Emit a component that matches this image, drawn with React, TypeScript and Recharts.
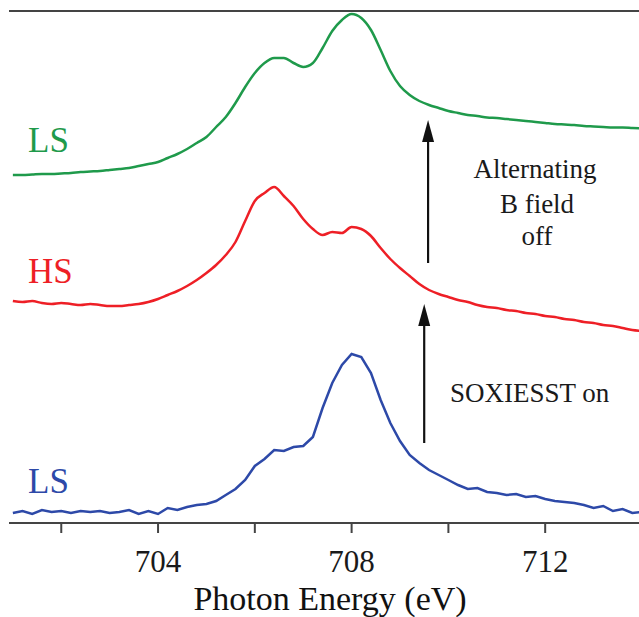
import React from "react";
import { LineChart, Line, XAxis, YAxis, ReferenceLine } from "recharts";

// photon energy grid (eV)
const energy = [
  701.0, 701.2, 701.4, 701.6, 701.8, 702.0, 702.2, 702.4, 702.6, 702.8,
  703.0, 703.2, 703.4, 703.6, 703.8, 704.0, 704.2, 704.4, 704.6, 704.8,
  705.0, 705.2, 705.4, 705.6, 705.8, 706.0, 706.2, 706.4, 706.6, 706.8,
  707.0, 707.2, 707.4, 707.6, 707.8, 708.0, 708.2, 708.4, 708.6, 708.8,
  709.0, 709.2, 709.4, 709.6, 709.8, 710.0, 710.2, 710.4, 710.6, 710.8,
  711.0, 711.2, 711.4, 711.6, 711.8, 712.0, 712.2, 712.4, 712.6, 712.8,
  713.0, 713.2, 713.4, 713.6, 713.8, 714.0,
];

// top trace: LS after alternating B field off (offset-stacked intensity, arb. units)
const lsFieldOff = [
  348, 348, 348.5, 349, 349, 349.5, 350, 351, 351.5, 352,
  353, 354, 355, 357, 359, 361, 365, 369, 374, 380,
  386, 396, 406, 420, 436, 450, 460, 465, 465, 460,
  456, 460, 475, 492, 503, 509, 505, 493, 473, 452,
  437, 428, 422, 418, 415, 412, 410, 408, 407, 405.5,
  405, 404, 403, 402, 401, 400, 399, 398.5, 398, 397,
  396.5, 396, 395.5, 395.5, 395, 394.5,
];

// middle trace: HS with SOXIESST on
const hsSoxiesst = [
  222, 221, 222, 220, 219, 220, 219, 218, 219, 218,
  217, 217, 218, 219, 221, 224, 228, 232, 237, 243,
  250, 258, 268, 281, 302, 322, 330, 336, 327, 317,
  304, 294, 288, 291, 290, 296, 294, 287, 275, 264,
  255, 247, 239, 233, 229, 226, 223, 221, 218, 216,
  215, 213, 212, 210, 209, 207, 206, 204, 203, 201,
  200, 198, 197, 195, 193, 192,
];

// bottom trace: LS initial state
const lsInitial = [
  10, 12, 9, 13, 11, 12, 10, 12, 11, 12,
  10, 11, 13, 9, 12, 9, 15, 13, 16, 18,
  19, 22, 28, 34, 43, 57, 64, 73, 72, 76,
  77, 86, 115, 140, 158, 169, 166, 150, 123, 100,
  82, 68, 60, 53, 48, 43, 38, 34, 35, 31,
  30, 28, 29, 26, 27, 24, 22, 21, 20, 18,
  15, 17, 12, 14, 10, 11,
];

const xTicks = [702, 704, 706, 708, 710, 712];
const xLabelled = [704, 708, 712];

const GREEN = "#1f9a4b";
const RED = "#ee1f26";
const BLUE = "#2d49a8";
const SERIF = "'Liberation Serif', 'Times New Roman', serif";

const rows = energy.map((e, i) => ({
  e,
  top: lsFieldOff[i],
  mid: hsSoxiesst[i],
  bot: lsInitial[i],
}));

const Arrow = (p: any) => {
  const x = p.x1;
  const tip = Math.min(p.y1, p.y2);
  const base = Math.max(p.y1, p.y2);
  return (
    <g>
      <line x1={x} y1={base} x2={x} y2={tip + 18} stroke="#111" strokeWidth={2.2} />
      <polygon points={`${x - 6},${tip + 22} ${x + 6},${tip + 22} ${x},${tip}`} fill="#111" />
    </g>
  );
};

export default function App() {
  // fixed so the plot can run off the right edge like the original figure
  return (
    <div style={{ position: "fixed", left: 0, top: 0, width: 639, height: 617, overflow: "hidden", background: "#fff" }}>
      <LineChart
        width={652}
        height={617}
        data={rows}
        margin={{ top: 11, right: 11, left: 9, bottom: 0 }}
      >
        <XAxis
          dataKey="e"
          type="number"
          domain={[700.92, 713.98]}
          allowDataOverflow
          ticks={xTicks}
          interval={0}
          height={94}
          tickSize={10}
          tickMargin={17}
          tickFormatter={(v: number) => (xLabelled.includes(v) ? String(v) : "")}
          tick={{ fill: "#1a1a1a", fontSize: 31, fontFamily: SERIF }}
          axisLine={{ stroke: "#444", strokeWidth: 2 }}
          tickLine={{ stroke: "#444", strokeWidth: 2 }}
        />
        <YAxis
          type="number"
          domain={[0, 512]}
          allowDataOverflow
          width={0}
          tick={false}
          tickLine={false}
          axisLine={{ stroke: "#444", strokeWidth: 2 }}
        />
        <ReferenceLine y={512} stroke="#444" strokeWidth={2} />

        <Line type="monotone" dataKey="top" stroke={GREEN} strokeWidth={2.5} dot={false} isAnimationActive={false} />
        <Line type="monotone" dataKey="mid" stroke={RED} strokeWidth={2.5} dot={false} isAnimationActive={false} />
        <Line type="linear" dataKey="bot" stroke={BLUE} strokeWidth={2.5} dot={false} isAnimationActive={false} />

        <ReferenceLine segment={[{ x: 709.58, y: 260 }, { x: 709.58, y: 403 }]} shape={Arrow} />
        <ReferenceLine segment={[{ x: 709.5, y: 80 }, { x: 709.5, y: 219 }]} shape={Arrow} />

        <text x={28} y={152} fill={GREEN} fontSize={35} fontFamily={SERIF}>LS</text>
        <text x={28} y={283} fill={RED} fontSize={35} fontFamily={SERIF}>HS</text>
        <text x={28} y={493} fill={BLUE} fontSize={35} fontFamily={SERIF}>LS</text>

        <text textAnchor="middle" fill="#1a1a1a" fontSize={27} fontFamily={SERIF}>
          <tspan x={535} y={178}>Alternating</tspan>
          <tspan x={537} y={213}>B field</tspan>
          <tspan x={537} y={245}>off</tspan>
        </text>
        <text x={450} y={402} fill="#1a1a1a" fontSize={27} fontFamily={SERIF}>SOXIESST on</text>

        <text x={330} y={610} textAnchor="middle" fill="#111" fontSize={34} fontFamily={SERIF}>
          Photon Energy (eV)
        </text>
      </LineChart>
    </div>
  );
}
